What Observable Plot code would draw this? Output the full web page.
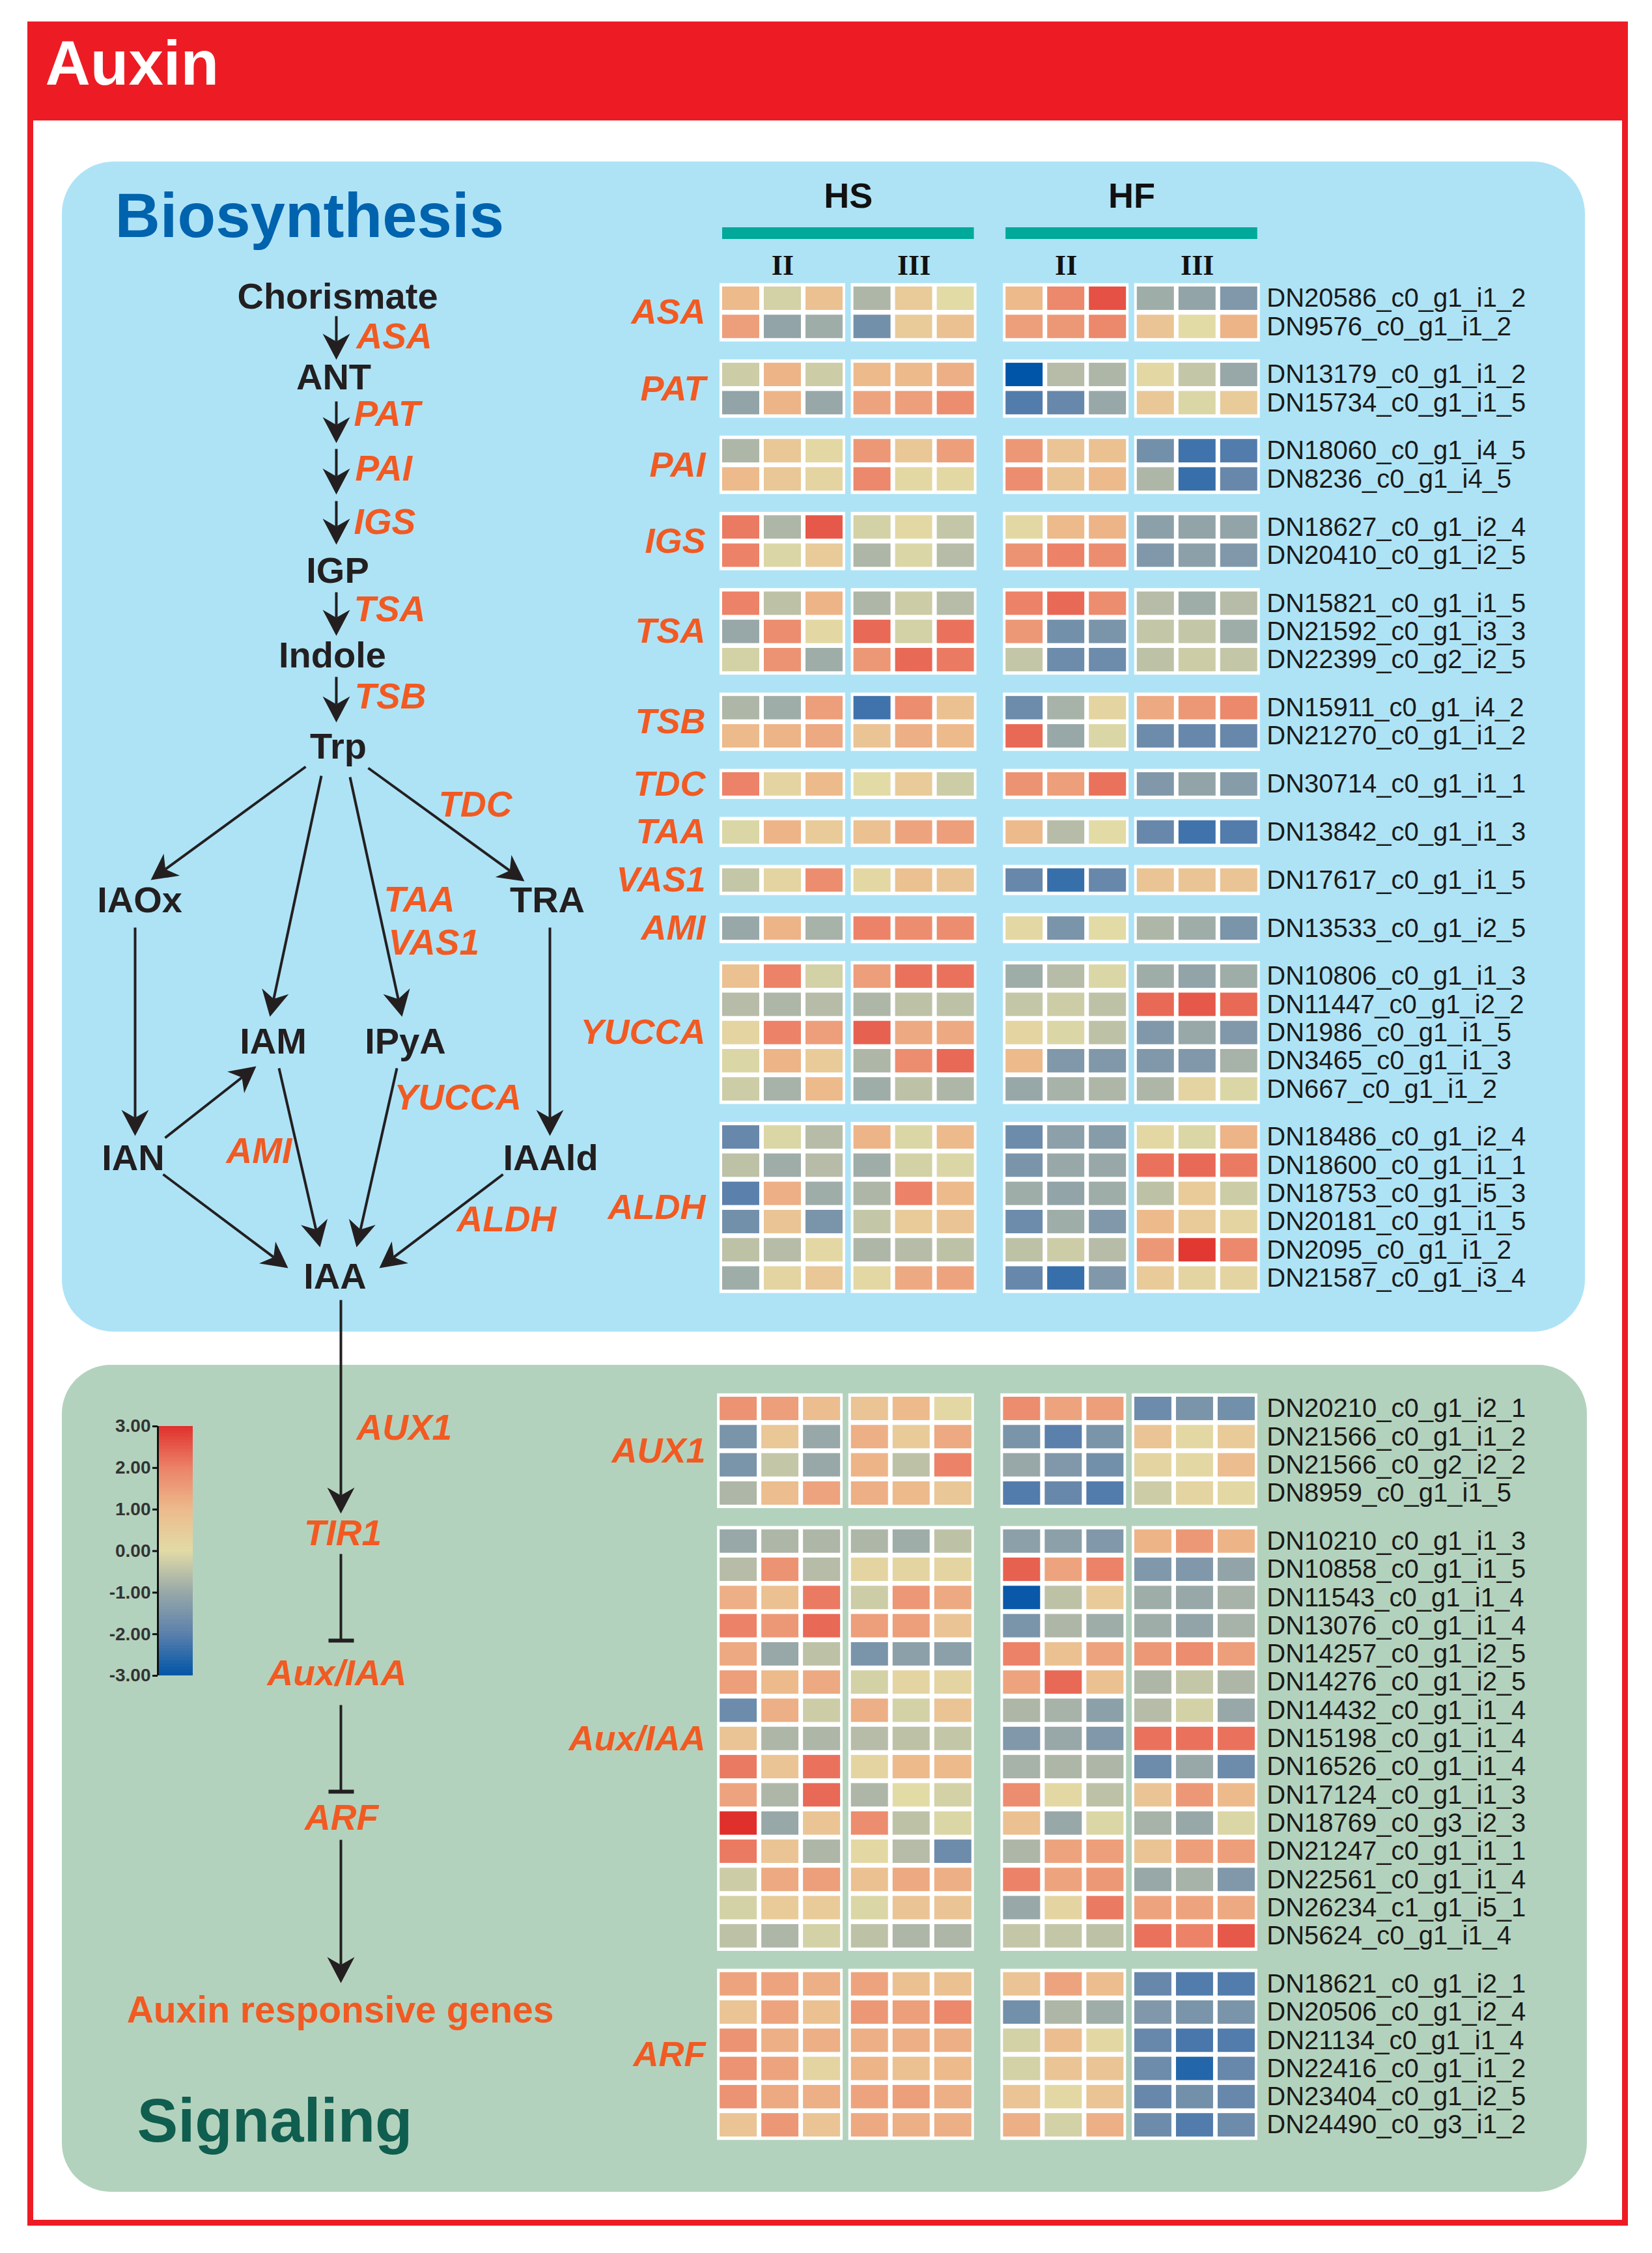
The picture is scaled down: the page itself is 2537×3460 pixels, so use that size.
<!DOCTYPE html>
<html><head><meta charset="utf-8">
<script src="https://cdn.jsdelivr.net/npm/d3@7"></script>
<script src="https://cdn.jsdelivr.net/npm/@observablehq/plot@0.6"></script>
<style>
html,body{margin:0;padding:0;background:#fff}
#page{position:relative;width:2537px;height:3460px;overflow:hidden;background:#fff;font-family:"Liberation Sans",Arial,sans-serif}
.layer{position:absolute;left:0;top:0}
.deco{position:absolute;box-sizing:border-box}
</style></head><body>
<div id="page">
  <div class="deco" style="left:42px;top:33px;width:2458px;height:3385px;border:9px solid #ED1C24"></div>
  <div class="deco" style="left:42px;top:33px;width:2458px;height:152px;background:#ED1C24"></div>
  <div class="deco" style="left:95px;top:248px;width:2339px;height:1797px;background:#AEE3F6;border-radius:80px"></div>
  <div class="deco" style="left:95px;top:2096px;width:2342px;height:1270px;background:#B3D2BD;border-radius:75px"></div>
</div>
<script>
// ---------------- DATA ----------------
const columnGroups = ["HS", "HF"];
const stageLabels = ["II", "III", "II", "III"];
const biosynthesisFamilies = ["ASA","PAT","PAI","IGS","TSA","TSB","TDC","TAA","VAS1","AMI","YUCCA","ALDH"];
const signalingFamilies = ["AUX1","Aux/IAA","ARF"];

const geneFamily = [
  "ASA","ASA","PAT","PAT","PAI","PAI","IGS","IGS","TSA","TSA","TSA","TSB","TSB","TDC","TAA","VAS1","AMI",
  "YUCCA","YUCCA","YUCCA","YUCCA","YUCCA","ALDH","ALDH","ALDH","ALDH","ALDH","ALDH",
  "AUX1","AUX1","AUX1","AUX1",
  "Aux/IAA","Aux/IAA","Aux/IAA","Aux/IAA","Aux/IAA","Aux/IAA","Aux/IAA","Aux/IAA","Aux/IAA","Aux/IAA","Aux/IAA","Aux/IAA","Aux/IAA","Aux/IAA","Aux/IAA",
  "ARF","ARF","ARF","ARF","ARF","ARF"
];
const geneIds = [
  "DN20586_c0_g1_i1_2","DN9576_c0_g1_i1_2","DN13179_c0_g1_i1_2","DN15734_c0_g1_i1_5","DN18060_c0_g1_i4_5","DN8236_c0_g1_i4_5",
  "DN18627_c0_g1_i2_4","DN20410_c0_g1_i2_5","DN15821_c0_g1_i1_5","DN21592_c0_g1_i3_3","DN22399_c0_g2_i2_5","DN15911_c0_g1_i4_2",
  "DN21270_c0_g1_i1_2","DN30714_c0_g1_i1_1","DN13842_c0_g1_i1_3","DN17617_c0_g1_i1_5","DN13533_c0_g1_i2_5",
  "DN10806_c0_g1_i1_3","DN11447_c0_g1_i2_2","DN1986_c0_g1_i1_5","DN3465_c0_g1_i1_3","DN667_c0_g1_i1_2",
  "DN18486_c0_g1_i2_4","DN18600_c0_g1_i1_1","DN18753_c0_g1_i5_3","DN20181_c0_g1_i1_5","DN2095_c0_g1_i1_2","DN21587_c0_g1_i3_4",
  "DN20210_c0_g1_i2_1","DN21566_c0_g1_i1_2","DN21566_c0_g2_i2_2","DN8959_c0_g1_i1_5",
  "DN10210_c0_g1_i1_3","DN10858_c0_g1_i1_5","DN11543_c0_g1_i1_4","DN13076_c0_g1_i1_4","DN14257_c0_g1_i2_5","DN14276_c0_g1_i2_5",
  "DN14432_c0_g1_i1_4","DN15198_c0_g1_i1_4","DN16526_c0_g1_i1_4","DN17124_c0_g1_i1_3","DN18769_c0_g3_i2_3","DN21247_c0_g1_i1_1",
  "DN22561_c0_g1_i1_4","DN26234_c1_g1_i5_1","DN5624_c0_g1_i1_4",
  "DN18621_c0_g1_i2_1","DN20506_c0_g1_i2_4","DN21134_c0_g1_i1_4","DN22416_c0_g1_i1_2","DN23404_c0_g1_i2_5","DN24490_c0_g3_i1_2"
];
// columns: HS-II x3, HS-III x3, HF-II x3, HF-III x3
const expression = [
  [1.0,-0.2,0.8,-0.7,0.5,0.0,1.0,1.9,2.6,-0.9,-1.1,-1.4],
  [1.5,-1.1,-0.9,-1.6,0.5,0.8,1.5,1.6,1.9,0.7,0.0,1.1],
  [-0.3,1.1,-0.3,1.0,1.0,1.2,-3.0,-0.6,-0.7,0.1,-0.4,-1.0],
  [-1.1,1.1,-1.0,1.4,1.5,1.8,-2.1,-1.8,-1.0,0.6,-0.1,0.5],
  [-0.7,0.6,0.1,1.6,0.6,1.5,1.6,0.7,0.8,-1.6,-2.3,-2.1],
  [1.0,0.6,0.2,1.9,0.1,0.1,1.8,0.7,1.0,-0.7,-2.4,-1.8],
  [2.1,-0.7,2.5,-0.2,0.1,-0.4,0.1,1.0,1.1,-1.2,-1.1,-1.1],
  [2.0,-0.1,0.5,-0.7,-0.1,-0.6,1.7,2.0,1.8,-1.4,-1.2,-1.4],
  [2.0,-0.5,1.1,-0.7,-0.3,-0.6,2.0,2.3,1.8,-0.6,-0.9,-0.6],
  [-1.0,1.8,0.1,2.3,-0.2,2.2,1.6,-1.6,-1.5,-0.4,-0.4,-0.9],
  [-0.2,1.7,-0.9,1.6,2.3,2.1,-0.4,-1.7,-1.7,-0.5,-0.3,-0.4],
  [-0.7,-0.9,1.5,-2.3,1.8,0.8,-1.7,-0.8,0.2,1.3,1.6,1.9],
  [1.0,1.1,1.3,0.7,1.2,1.0,2.3,-1.0,-0.1,-1.7,-1.8,-1.8],
  [2.0,0.2,1.0,0.0,0.5,-0.3,1.7,1.5,2.2,-1.4,-1.1,-1.3],
  [-0.1,1.1,0.5,0.8,1.4,1.5,1.0,-0.6,0.0,-1.8,-2.3,-2.1],
  [-0.4,0.2,1.8,0.1,0.8,0.7,-1.8,-2.4,-1.8,0.7,0.7,0.7],
  [-1.0,1.1,-0.8,2.0,1.8,1.8,0.1,-1.5,0.0,-0.7,-0.9,-1.5],
  [0.8,2.0,-0.2,1.5,2.2,2.2,-0.9,-0.6,-0.1,-0.9,-1.1,-0.9],
  [-0.6,-0.7,-0.6,-0.7,-0.5,-0.5,-0.4,-0.3,-0.5,2.3,2.5,2.3],
  [0.2,2.0,1.5,2.4,1.3,1.3,0.2,-0.1,-0.5,-1.4,-1.0,-1.4],
  [-0.1,1.1,0.5,-0.7,1.8,2.3,1.0,-1.4,-1.4,-1.4,-1.4,-0.8],
  [-0.3,-0.8,1.0,-0.9,-0.5,-0.7,-1.0,-0.8,-0.7,-0.7,0.2,-0.1],
  [-1.8,-0.1,-0.6,1.1,-0.1,1.0,-1.7,-1.2,-1.3,0.1,-0.1,1.1],
  [-0.5,-0.9,-0.6,-0.9,-0.2,-0.1,-1.5,-1.0,-1.0,2.2,2.3,2.1],
  [-2.0,1.2,-0.9,-0.7,2.0,1.0,-0.9,-1.1,-0.9,-0.5,0.5,-0.3],
  [-1.6,0.7,-1.5,-0.4,0.5,0.7,-1.7,-0.9,-1.4,1.0,0.5,0.2],
  [-0.5,-0.6,0.1,-0.7,-0.6,-0.5,-0.5,-0.3,-0.6,1.6,2.9,1.9],
  [-0.9,0.2,0.6,0.1,1.3,1.4,-1.8,-2.4,-1.4,0.5,0.2,0.2],
  [1.7,1.5,0.9,0.7,1.0,0.1,1.8,1.4,1.5,-1.7,-1.5,-1.6],
  [-1.5,0.6,-1.0,1.2,0.5,1.3,-1.5,-2.0,-1.5,0.7,0.1,0.5],
  [-1.5,-0.4,-1.0,1.1,-0.5,2.0,-1.0,-1.4,-1.6,0.2,0.1,0.9],
  [-0.7,0.9,1.4,1.2,1.0,0.6,-2.1,-1.8,-2.1,-0.3,0.2,0.1],
  [-1.0,-0.7,-0.7,-0.7,-0.9,-0.5,-1.2,-1.2,-1.4,1.1,1.6,1.1],
  [-0.6,1.7,-0.6,0.2,0.2,0.2,2.4,1.4,2.0,-1.4,-1.4,-1.1],
  [1.2,0.8,2.1,-0.3,1.6,1.3,-2.9,-0.5,0.5,-0.9,-1.0,-0.8],
  [2.0,1.6,2.3,1.5,1.5,0.7,-1.5,-0.7,-0.9,-0.9,-1.1,-0.8],
  [1.3,-1.0,-0.5,-1.5,-1.2,-1.2,2.0,0.8,1.4,1.6,1.8,1.5],
  [1.5,1.0,1.3,-0.2,0.2,0.2,1.4,2.3,0.8,-0.7,-0.4,-0.7],
  [-1.7,1.2,-0.3,1.2,-0.2,0.7,-0.7,-0.8,-1.2,-0.6,-0.2,-1.0],
  [0.7,-0.7,-0.7,-0.6,-0.5,-0.4,-1.4,-1.0,-1.4,2.2,2.2,2.2],
  [2.1,0.7,2.2,0.2,1.0,1.0,-0.8,-0.7,-0.7,-1.7,-1.0,-1.7],
  [1.4,-0.7,2.3,-0.7,0.0,-0.2,1.8,0.1,-0.5,0.7,1.6,1.0],
  [3.0,-1.0,0.7,1.8,-0.5,-0.1,0.8,-1.0,-0.1,-0.8,-1.0,-0.1],
  [2.1,0.7,-0.7,0.1,-0.6,-1.7,-0.7,1.4,1.5,0.7,1.5,1.5],
  [-0.3,1.3,1.5,0.8,1.3,1.2,2.0,1.4,1.6,-1.0,-0.8,-1.4],
  [-0.2,0.5,0.5,-0.1,0.7,0.7,-1.0,0.2,2.1,1.4,1.4,1.3],
  [-0.5,-0.7,-0.2,-0.5,-0.7,-0.7,-0.4,-0.4,-0.5,2.2,2.0,2.5],
  [1.4,1.4,1.2,1.4,0.8,0.8,0.7,1.4,0.9,-1.8,-2.1,-2.1],
  [0.7,1.4,0.8,1.6,1.5,1.9,-1.6,-0.7,-0.9,-1.4,-1.5,-1.5],
  [1.7,1.2,1.2,1.2,1.2,1.2,-0.2,0.9,0.1,-1.8,-2.2,-2.1],
  [1.7,1.4,0.2,1.1,0.8,1.0,-0.2,0.7,0.7,-1.7,-2.6,-1.8],
  [1.7,1.3,1.2,1.4,1.5,1.2,0.7,0.1,0.7,-1.8,-1.6,-1.8],
  [0.7,1.6,0.7,1.3,1.2,1.2,1.2,-0.2,1.2,-1.7,-2.1,-1.7]
];
const legendTicks = [3, 2, 1, 0, -1, -2, -3];
const colorDomain = [-3, -2, -1, 0, 1, 2, 3];
const colorRange = ["#0055A8","#5B80AC","#98A8A8","#E2DBA6","#EDBA8C","#EC8268","#E0302C"];

// pathway diagram text (labels only)
const titles = {header: "Auxin", top: "Biosynthesis", bottom: "Signaling"};

// ---------------- LAYOUT ----------------
const ORANGE = "#F15A22", INK = "#231F20", FONT = "Liberation Sans, Arial, sans-serif";
const colPos = c => c + 0.15 * Math.floor(c / 3) + 0.5 * Math.floor(c / 6);
const CW = 0.89, RH = 0.83, GAP = 30.5 / 43.3, SECOFF = 126.6 / 43.3;
const XEND = colPos(11) + CW;

let gi = -1, prev = null;
const rows = geneIds.map((id, i) => {
  const fam = geneFamily[i];
  if (fam !== prev) { gi++; prev = fam; }
  const sec = signalingFamilies.includes(fam) ? 1 : 0;
  return {id, fam, sec, y: i + gi * GAP + sec * SECOFF, values: expression[i]};
});
// signaling blocks sit ~4px (0.06 col units) left of the biosynthesis blocks
const SHIFT = -0.06;
const cells = rows.flatMap(r => r.values.map((v, c) => ({c, y: r.y, v, s: r.sec * SHIFT})));
const famRows = d3.groups(rows, r => r.fam).map(([fam, rs]) => ({fam, s: rs[0].sec * SHIFT,
  y0: d3.min(rs, r => r.y), y1: d3.max(rs, r => r.y) + RH}));
const frames = famRows.flatMap(f => [0, 1, 2, 3].map(k => ({k, s: f.s, y0: f.y0, y1: f.y1})));

const colorOpts = {type: "linear", domain: colorDomain, range: colorRange};
const page = document.getElementById("page");

// ---------------- HEATMAP ----------------
const heat = Plot.plot({
  width: 2537, height: 3460, margin: 0,
  style: {background: "transparent", maxWidth: "none", fontFamily: FONT, overflow: "visible"},
  x: {type: "linear", domain: [0, XEND], range: [1109, 1109 + XEND * 64], axis: null},
  y: {type: "linear", domain: [-4, 80], range: [440 - 4 * 43.3, 440 + 80 * 43.3], axis: null},
  color: colorOpts,
  marks: [
    Plot.rect(frames, {x1: d => colPos(3 * d.k) - 0.0625 + d.s, x2: d => colPos(3 * d.k + 2) + CW + 0.0625 + d.s,
      y1: d => d.y0 - 0.12, y2: d => d.y1 + 0.12, fill: "white"}),
    Plot.rect(cells, {x1: d => colPos(d.c) + d.s, x2: d => colPos(d.c) + CW + d.s, y1: d => d.y, y2: d => d.y + RH, fill: "v"}),
    Plot.text(rows, {x: () => XEND, y: d => d.y + RH / 2, text: "id", dx: 14, textAnchor: "start",
      fontSize: 40, fill: "#1a1a1a", fontFamily: FONT}),
    Plot.text(famRows, {x: () => 0, y: d => (d.y0 + d.y1) / 2, text: "fam", dx: -26, textAnchor: "end",
      fontSize: 54, fontWeight: "bold", fontStyle: "italic", fill: ORANGE, fontFamily: FONT}),
    Plot.rect(columnGroups, {x1: (d, i) => colPos(6 * i), x2: (d, i) => colPos(6 * i + 5) + CW,
      y1: () => -2.10, y2: () => -1.685, fill: "#00A99A"}),
    Plot.text(columnGroups, {x: (d, i) => (colPos(6 * i) + colPos(6 * i + 5) + CW) / 2, y: () => -3.21, text: d => d,
      fontSize: 54, fontWeight: "bold", fill: "#111", fontFamily: FONT}),
    Plot.text(stageLabels, {x: (d, i) => (colPos(3 * i) + colPos(3 * i + 2) + CW) / 2, y: () => -0.76, text: d => d,
      fontSize: 44, fontWeight: "bold", fill: "#111", fontFamily: "Liberation Serif, Times New Roman, serif"})
  ]
});
heat.classList.add("layer");

// ---------------- PATHWAY DIAGRAM ----------------
const nodes = [
  {t: "Chorismate", x: 518, y: 456}, {t: "ANT", x: 512, y: 580}, {t: "IGP", x: 518, y: 877},
  {t: "Indole", x: 510, y: 1007}, {t: "Trp", x: 519, y: 1147}, {t: "IAOx", x: 214, y: 1383},
  {t: "TRA", x: 840, y: 1383}, {t: "IAM", x: 419, y: 1600}, {t: "IPyA", x: 622, y: 1600},
  {t: "IAN", x: 204, y: 1779}, {t: "IAAld", x: 845, y: 1779}, {t: "IAA", x: 514, y: 1961}
];
const enzymes = [
  {t: "ASA", x: 547, y: 517}, {t: "PAT", x: 543, y: 636}, {t: "PAI", x: 545, y: 720}, {t: "IGS", x: 543, y: 802},
  {t: "TSA", x: 543, y: 936}, {t: "TSB", x: 544, y: 1070}, {t: "TDC", x: 673, y: 1236}, {t: "TAA", x: 589, y: 1382},
  {t: "VAS1", x: 596, y: 1448}, {t: "YUCCA", x: 605, y: 1686}, {t: "AMI", x: 347, y: 1768}, {t: "ALDH", x: 701, y: 1873},
  {t: "AUX1", x: 547, y: 2193}
];
const sigLabels = [
  {t: "TIR1", x: 526, y: 2355}, {t: "Aux/IAA", x: 517, y: 2570}, {t: "ARF", x: 524, y: 2792}
];
const edgeCoords = [
  [516,485,516,552],[516,616,516,680],[516,689,516,759],[516,769,516,836],[516,909,516,976],[516,1039,516,1109],
  [469,1177,231,1351],[493,1191,414,1561],[537,1193,617,1561],[565,1179,805,1353],
  [207,1424,207,1744],[844,1424,844,1744],[253,1747,393,1637],[428,1640,491,1915],[609,1640,547,1915],
  [250,1803,442,1947],[772,1803,582,1947],[523,1996,523,2324],[523,2825,523,3045]
];
const HEAD = 40;
const edges = edgeCoords.map(([x1, y1, x2, y2]) => {
  const dx = x2 - x1, dy = y2 - y1, len = Math.hypot(dx, dy);
  return {x1, y1, x2, y2, ex: x2 - dx / len * HEAD * 0.7, ey: y2 - dy / len * HEAD * 0.7,
          angle: Math.atan2(dx, -dy) * 180 / Math.PI};
});
const inhibitions = [[523, 2386, 2519], [523, 2618, 2751]];
const arrowHead = {
  draw(ctx, size) {
    const r = Math.sqrt(size / Math.PI), L = 2 * r, W = 1.05 * r;
    ctx.moveTo(0, 0); ctx.lineTo(-W, L); ctx.lineTo(0, 0.7 * L); ctx.lineTo(W, L); ctx.closePath();
  }
};

const diagram = Plot.plot({
  width: 2537, height: 3460, margin: 0,
  style: {background: "transparent", maxWidth: "none", fontFamily: FONT, overflow: "visible"},
  x: {type: "identity", axis: null}, y: {type: "identity", axis: null},
  marks: [
    Plot.text([titles.header], {x: () => 69, y: () => 99, text: d => d, textAnchor: "start", fontSize: 96,
      fontWeight: "bold", fill: "white", fontFamily: FONT}),
    Plot.text([titles.top], {x: () => 176, y: () => 333, text: d => d, textAnchor: "start", fontSize: 96,
      fontWeight: "bold", fill: "#0063AE", fontFamily: FONT}),
    Plot.text([titles.bottom], {x: () => 210, y: () => 3258, text: d => d, textAnchor: "start", fontSize: 94,
      fontWeight: "bold", fill: "#0F5E4F", fontFamily: FONT}),
    Plot.link(edges, {x1: "x1", y1: "y1", x2: "ex", y2: "ey", stroke: INK, strokeWidth: 4}),
    Plot.dot(edges, {x: "x2", y: "y2", symbol: arrowHead, r: 20, rotate: "angle", fill: INK, stroke: null}),
    Plot.link(inhibitions, {x1: d => d[0], y1: d => d[1], x2: d => d[0], y2: d => d[2], stroke: INK, strokeWidth: 4}),
    Plot.link(inhibitions, {x1: d => d[0] - 19, y1: d => d[2], x2: d => d[0] + 20, y2: d => d[2], stroke: INK, strokeWidth: 6}),
    Plot.text(nodes, {x: "x", y: "y", text: "t", fontSize: 56, fontWeight: "bold", fill: INK, fontFamily: FONT}),
    Plot.text(enzymes, {x: "x", y: "y", text: "t", textAnchor: "start", fontSize: 55, fontWeight: "bold",
      fontStyle: "italic", fill: ORANGE, fontFamily: FONT}),
    Plot.text(sigLabels, {x: "x", y: "y", text: "t", fontSize: 55, fontWeight: "bold",
      fontStyle: "italic", fill: ORANGE, fontFamily: FONT}),
    Plot.text(["Auxin responsive genes"], {x: () => 522, y: () => 3087, text: d => d, fontSize: 57,
      fontWeight: "bold", fill: ORANGE, fontFamily: FONT})
  ]
});
diagram.classList.add("layer");

// ---------------- LEGEND ----------------
const legend = Plot.plot({
  width: 300, height: 440, marginLeft: 242, marginRight: 4, marginTop: 30, marginBottom: 27,
  style: {background: "transparent", maxWidth: "none", fontFamily: FONT, overflow: "visible"},
  x: {domain: [0, 1], axis: null},
  y: {domain: [-3, 3], axis: null},
  color: colorOpts,
  marks: [
    Plot.rect(d3.range(-3, 3, 0.02), {x1: () => 0, x2: () => 1, y1: d => d, y2: d => Math.min(3, d + 0.03), fill: d => d + 0.01}),
    Plot.ruleX([0], {stroke: "#111", strokeWidth: 3}),
    Plot.axisY({ticks: legendTicks, tickFormat: d => d.toFixed(2), fontSize: 28, fontWeight: "bold",
      tickSize: 8, tickPadding: 3, stroke: "#111", strokeWidth: 3, fill: "#333", fontFamily: FONT})
  ]
});
legend.classList.add("layer");
legend.style.left = "0px"; legend.style.top = "2160px";

page.appendChild(heat);
page.appendChild(diagram);
page.appendChild(legend);
</script>
</body></html>
